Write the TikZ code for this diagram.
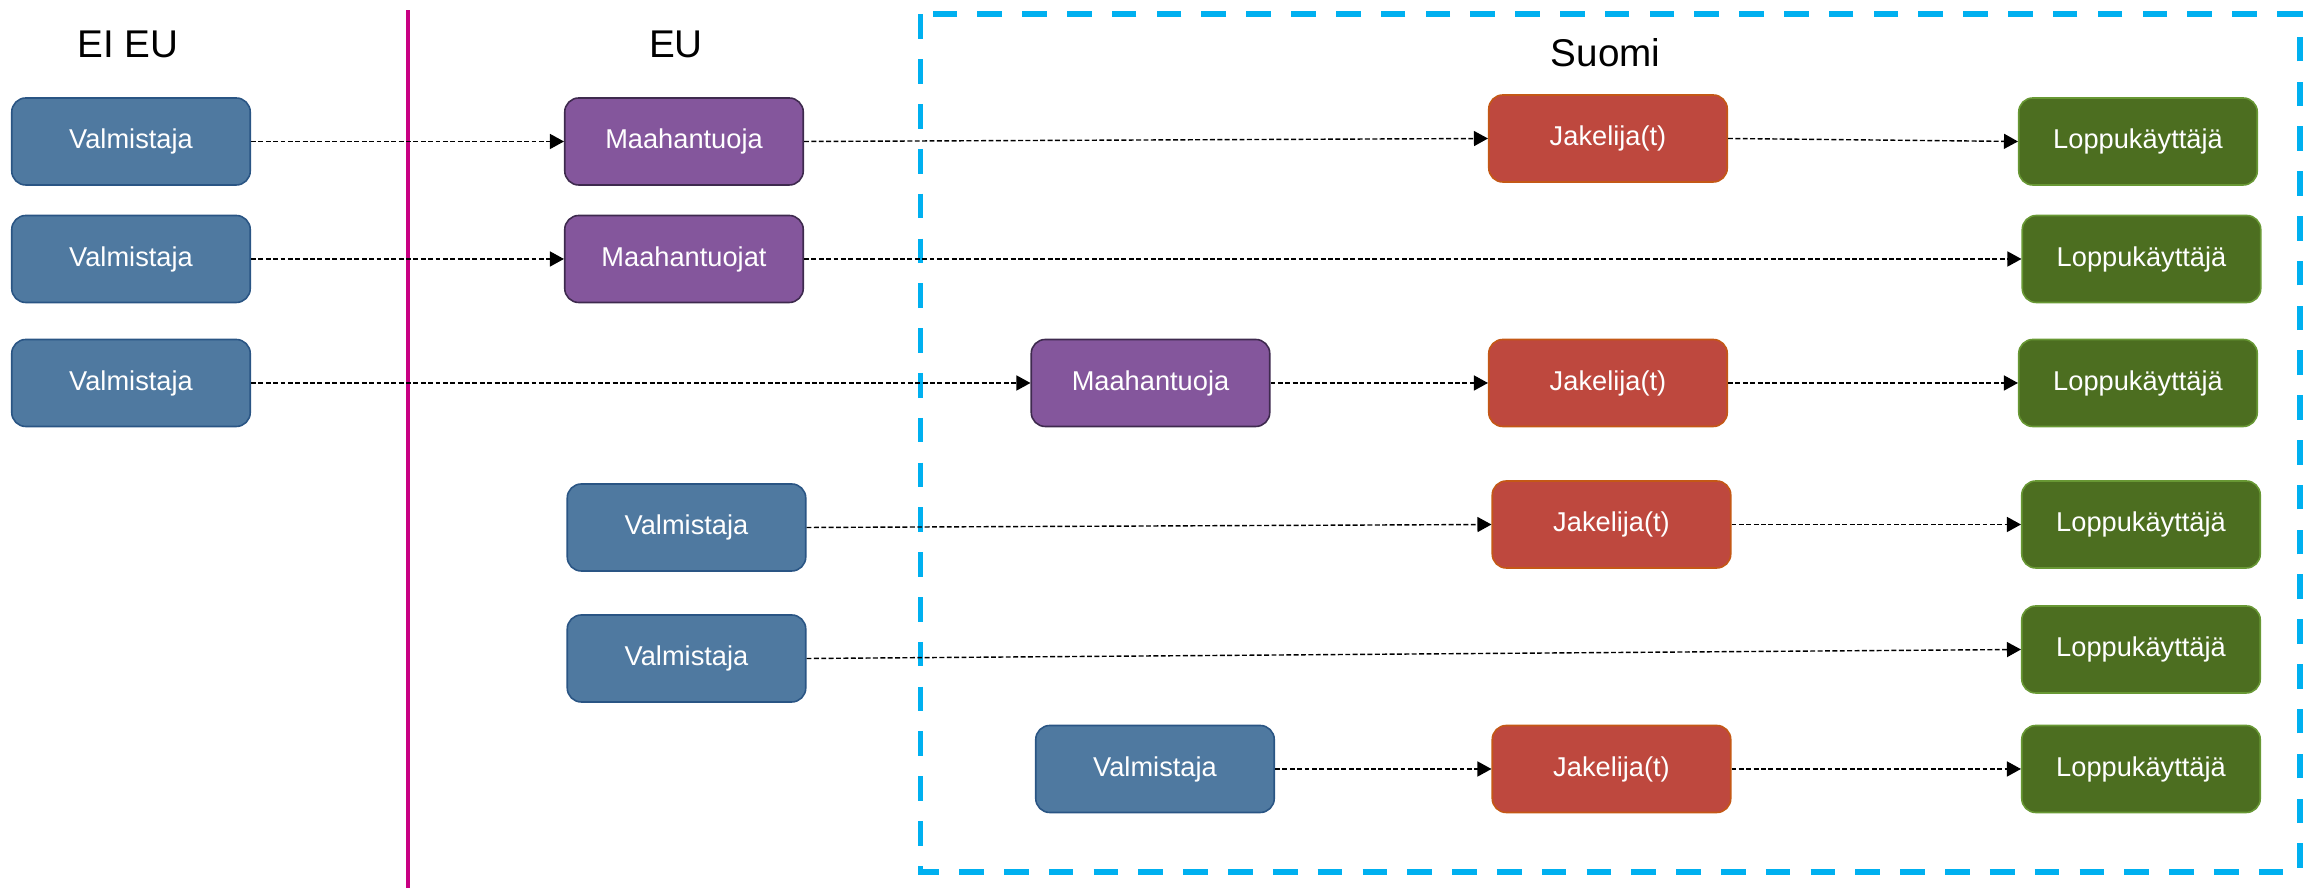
\documentclass[tikz,border=0pt]{standalone}
\usepackage{fontspec}
\setmainfont{Liberation Sans}
\usetikzlibrary{arrows.meta}

\definecolor{makerfill}{RGB}{79,121,160}
\definecolor{makerline}{RGB}{42,85,132}
\definecolor{importerfill}{RGB}{132,86,156}
\definecolor{importerline}{RGB}{62,42,78}
\definecolor{dealerfill}{RGB}{190,72,62}
\definecolor{dealerline}{RGB}{196,88,22}
\definecolor{userfill}{RGB}{76,110,32}
\definecolor{userline}{RGB}{104,152,52}
\definecolor{finland}{RGB}{0,176,240}
\definecolor{border}{RGB}{200,0,130}

\begin{document}
\begin{tikzpicture}[
  font=\fontsize{15.5}{18}\selectfont,
  box/.style={rectangle, rounded corners=0.28cm, line width=0.9pt, minimum width=4.77cm,
    minimum height=1.74cm, inner sep=0pt, text=white},
  maker/.style={box, fill=makerfill, draw=makerline},
  importer/.style={box, fill=importerfill, draw=importerline},
  dealer/.style={box, fill=dealerfill, draw=dealerline},
  user/.style={box, fill=userfill, draw=userline},
  flow/.style={-{Triangle[length=0.28cm, width=0.3cm]}, line width=0.8pt,
    dash pattern=on 2.8pt off 1.4pt},
  title/.style={font=\fontsize{22}{26}\selectfont, inner sep=2pt}
]
  \useasboundingbox (0,0) rectangle (46.2,17.76);

  % Area titles, the EU border and the dashed Finland area.
  \node[title] (eiEU) at (2.56,16.88) {EI EU};
  \node[title] (eu) at (13.52,16.88) {EU};
  \node[title] (suomi) at (32.11,16.70) {Suomi};
  \draw[border, line width=2.6pt] (8.16,17.55) -- (8.16,0);
  \draw[finland, line width=3.4pt, dash pattern=on 14pt off 11.5pt]
    (18.41,17.47) rectangle (45.99,0.32);

  % Manufacturers outside the EU.
  \foreach \i/\y in {1/14.93, 2/12.58, 3/10.10} {
    \node[maker] (valm\i) at (2.62,\y) {Valmistaja};
  }
  \node[importer] (tuoja1) at (13.68,14.93) {Maahantuoja};
  \node[importer] (tuoja2) at (13.68,12.58) {Maahantuojat};
  \node[importer] (tuoja3) at (23.01,10.10) {Maahantuoja};
  \node[maker] (valm4) at (13.73,7.21) {Valmistaja};
  \node[maker] (valm5) at (13.73,4.59) {Valmistaja};
  \node[maker] (valm6) at (23.10,2.38) {Valmistaja};

  \node[dealer] (jak1) at (32.16,14.99) {Jakelija(t)};
  \node[dealer] (jak3) at (32.16,10.10) {Jakelija(t)};
  \node[dealer] (jak4) at (32.23,7.27) {Jakelija(t)};
  \node[dealer] (jak6) at (32.23,2.38) {Jakelija(t)};

  \foreach \i/\x/\y in {1/42.76/14.93, 2/42.83/12.58, 3/42.76/10.10,
                        4/42.82/7.27, 5/42.82/4.77, 6/42.82/2.38} {
    \node[user] (loppu\i) at (\x,\y) {Loppukäyttäjä};
  }

  % Supply chains, one per row.
  \draw[flow] (valm1.east) -- (tuoja1.west);
  \draw[flow] (tuoja1.east) -- (jak1.west);
  \draw[flow] (jak1.east) -- (loppu1.west);
  \draw[flow] (valm2.east) -- (tuoja2.west);
  \draw[flow] (tuoja2.east) -- (loppu2.west);
  \draw[flow] (valm3.east) -- (tuoja3.west);
  \draw[flow] (tuoja3.east) -- (jak3.west);
  \draw[flow] (jak3.east) -- (loppu3.west);
  \draw[flow] (valm4.east) -- (jak4.west);
  \draw[flow] (jak4.east) -- (loppu4.west);
  \draw[flow] (valm5.east) -- (loppu5.west);
  \draw[flow] (valm6.east) -- (jak6.west);
  \draw[flow] (jak6.east) -- (loppu6.west);
\end{tikzpicture}
\end{document}
